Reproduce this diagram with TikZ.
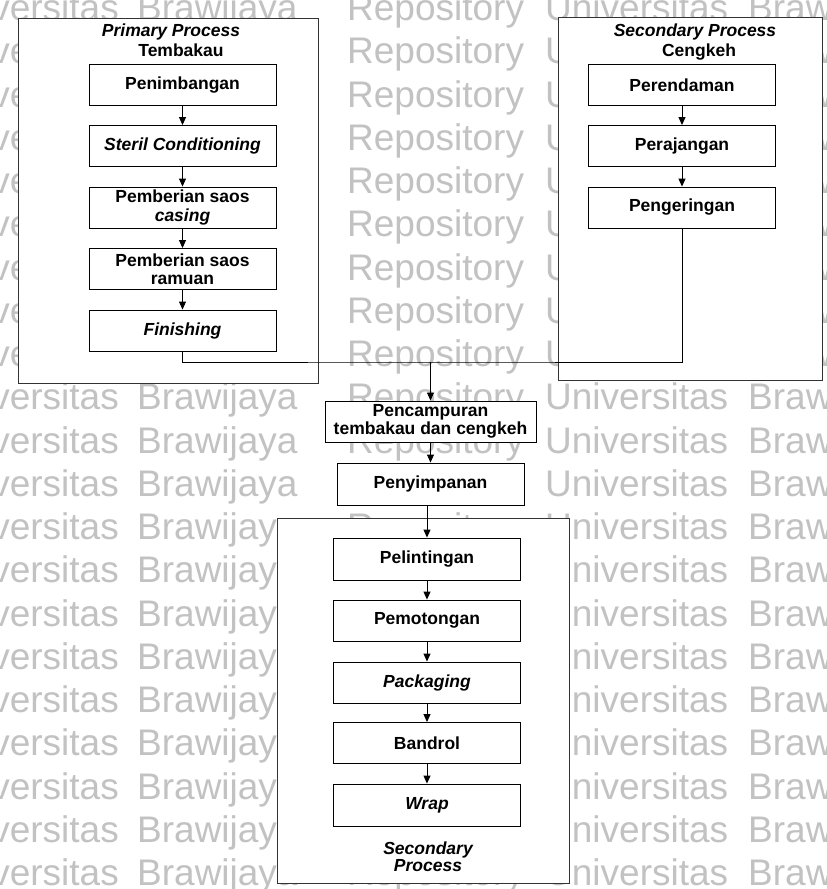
\documentclass[tikz,border=0pt]{standalone}
\usepackage{fontspec}
\setmainfont{Liberation Sans}
\usetikzlibrary{arrows.meta}
\begin{document}
\begin{tikzpicture}[x=1pt,y=-1pt,
  every node/.style={inner sep=0pt},
  txt/.style={font=\fontsize{17.5}{18.5}\selectfont\bfseries, align=center},
  ttl/.style={font=\fontsize{17.5}{18.5}\selectfont\bfseries\itshape},
  stepbox/.style={txt, draw=black, line width=0.9pt, fill=white,
                  minimum width=187pt, minimum height=41pt},
  group/.style={draw=black!80, line width=1.3pt, fill=white},
  arr/.style={-{Triangle[length=8pt,width=7pt]}, line width=0.9pt},
  wm/.style={font=\fontsize{37}{37}\selectfont, text=black!24}
]
\useasboundingbox (0,0) rectangle (827,889);
\fill[white] (0,0) rectangle (827,889);

% background watermark rows
\begin{scope}
  \clip (0,0) rectangle (827,889);
  \foreach \k in {0,...,20} {
    \pgfmathsetmacro\yb{20.5+43.25*\k}
    \node[wm, anchor=base east] (wmA\k) at (119,\yb) {Universitas};
    \node[wm, anchor=base west] (wmB\k) at (137,\yb) {Brawijaya};
    \node[wm, anchor=base west] (wmC\k) at (347,\yb) {Repository};
    \node[wm, anchor=base west] (wmD\k) at (545,\yb) {Universitas};
    \node[wm, anchor=base west] (wmE\k) at (748,\yb) {Brawijaya};
  }
\end{scope}

% group frames
\node[group, anchor=north west, minimum width=300pt, minimum height=365pt] (primary) at (18,18) {};
\node[group, anchor=north west, minimum width=264pt, minimum height=363pt] (secondary) at (558,17) {};
\node[group, anchor=north west, minimum width=292pt, minimum height=365pt] (final) at (277,518) {};

% group titles
\node[ttl, anchor=base] (ptitle) at (171,36.5) {Primary Process};
\node[txt, anchor=base] (psub) at (181,56) {Tembakau};
\node[ttl, anchor=base] (stitle) at (695,36.5) {Secondary Process};
\node[txt, anchor=base] (ssub) at (699,56) {Cengkeh};
\node[ttl, anchor=base] (ftitleA) at (428,854) {Secondary};
\node[ttl, anchor=base] (ftitleB) at (428,871) {Process};

% tobacco line
\node[stepbox] (pen) at (182.5,85) {Penimbangan};
\node[stepbox] (ster) at (182.5,146) {\itshape Steril Conditioning};
\node[stepbox] (cas) at (182.5,207.5) {Pemberian saos\\\itshape casing};
\node[stepbox] (ram) at (182.5,269) {Pemberian saos\\ramuan};
\node[stepbox] (fin) at (182.5,330.5) {\itshape Finishing};

% clove line
\node[stepbox] (ren) at (682,85) {Perendaman};
\node[stepbox] (raj) at (682,146) {Perajangan};
\node[stepbox] (peng) at (682,207.5) {Pengeringan};

% mixing and storage
\node[stepbox, minimum width=211pt] (mix) at (430.5,421.5) {Pencampuran\\tembakau dan cengkeh};
\node[stepbox, minimum height=42pt] (store) at (430.5,484) {Penyimpanan};

% final line
\node[stepbox, minimum height=42pt] (roll) at (427,559) {Pelintingan};
\node[stepbox] (cut) at (427,620.5) {Pemotongan};
\node[stepbox] (pack) at (427,682.5) {\itshape Packaging};
\node[stepbox] (band) at (427,743) {Bandrol};
\node[stepbox, minimum height=42pt] (wrap) at (427,805) {\itshape Wrap};

% connectors
\draw[arr] (pen) -- (ster);
\draw[arr] (ster) -- (cas);
\draw[arr] (cas) -- (ram);
\draw[arr] (ram) -- (fin);
\draw[arr] (ren) -- (raj);
\draw[arr] (raj) -- (peng);

\coordinate (bus) at (430.5,362);
\draw[line width=0.9pt] (fin.south) |- (bus) -| (peng.south);
\draw[arr] (bus) -- (mix.north);
\draw[arr] (mix) -- (store);
\draw[arr] (roll.north |- store.south) -- (roll.north);
\draw[arr] (roll) -- (cut);
\draw[arr] (cut) -- (pack);
\draw[arr] (pack) -- (band);
\draw[arr] (band) -- (wrap);
\end{tikzpicture}
\end{document}
